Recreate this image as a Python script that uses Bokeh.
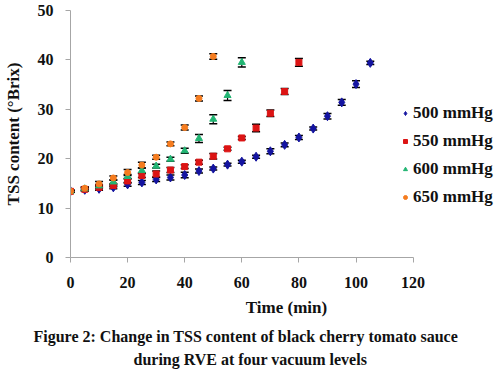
from bokeh.plotting import figure
from bokeh.models import (ColumnDataSource, Whisker, TeeHead, Legend, LegendItem,
                          Range1d, FixedTicker, Title)
from bokeh.embed import file_html
from bokeh.resources import INLINE

# ---- data ----
t_500 = [0, 5, 10, 15, 20, 25, 30, 35, 40, 45, 50, 55, 60, 65, 70, 75, 80, 85, 90, 95, 100, 105]
tss_500 = [13.4, 13.7, 13.9, 14.2, 14.8, 15.2, 15.8, 16.2, 16.7, 17.5, 18.0, 18.8, 19.4, 20.4,
           21.5, 22.8, 24.3, 26.1, 28.6, 31.4, 35.1, 39.4]
err_500 = [0.2, 0.3, 0.3, 0.3, 0.4, 0.4, 0.4, 0.5, 0.55, 0.4, 0.3, 0.3, 0.3, 0.3, 0.5, 0.4,
           0.4, 0.3, 0.55, 0.6, 0.7, 0.35]

t_550 = [0, 5, 10, 15, 20, 25, 30, 35, 40, 45, 50, 55, 60, 65, 70, 75, 80]
tss_550 = [13.4, 13.8, 14.2, 14.6, 15.5, 16.6, 16.9, 17.7, 18.4, 19.3, 20.5, 22.0, 24.2, 26.2,
           29.2, 33.6, 39.5]
err_550 = [0.2, 0.3, 0.3, 0.3, 0.4, 0.4, 0.6, 0.5, 0.4, 0.4, 0.55, 0.3, 0.3, 0.75, 0.65, 0.6, 0.8]

t_600 = [0, 5, 10, 15, 20, 25, 30, 35, 40, 45, 50, 55, 60]
tss_600 = [13.4, 13.9, 14.5, 15.3, 16.4, 17.6, 18.5, 19.9, 21.6, 24.1, 28.0, 32.8, 39.5]
err_600 = [0.2, 0.3, 0.3, 0.4, 0.4, 0.5, 0.4, 0.4, 0.5, 0.8, 0.9, 1.0, 0.95]

t_650 = [0, 5, 10, 15, 20, 25, 30, 35, 40, 45, 50]
tss_650 = [13.4, 14.0, 14.9, 16.1, 17.2, 18.7, 20.3, 23.0, 26.3, 32.2, 40.7]
err_650 = [0.2, 0.3, 0.5, 0.4, 0.6, 0.6, 0.4, 0.4, 0.5, 0.5, 0.55]

labels = ["500 mmHg", "550 mmHg", "600 mmHg", "650 mmHg"]
x_ticks = [0, 20, 40, 60, 80, 100, 120]
y_ticks = [0, 10, 20, 30, 40, 50]

FONT = "Liberation Serif"
W, H = 502, 369
LEFT, TOP, BOTTOM = 67, 10, 112
AXIS_W = 345.0            # pixel length of the 0..120 x axis
frame_w = W - LEFT
x_end = 120 * frame_w / AXIS_W   # frame extends right to make room for the legend

p = figure(width=W, height=H, output_backend="svg", toolbar_location=None,
           x_range=Range1d(0, x_end), y_range=Range1d(0, 50),
           min_border_left=LEFT, min_border_right=0, min_border_top=TOP,
           min_border_bottom=BOTTOM)
p.outline_line_color = None
p.xgrid.visible = False
p.ygrid.visible = False

for ax in (p.xaxis[0], p.yaxis[0]):
    ax.axis_line_color = "#a6a6a6"
    ax.major_tick_line_color = "#a6a6a6"
    ax.minor_tick_line_color = None
    ax.major_tick_out = 5
    ax.major_tick_in = 0
    ax.major_label_text_font = FONT
    ax.major_label_text_font_style = "bold"
    ax.major_label_text_font_size = "16px"
    ax.major_label_text_color = "#111111"
    ax.axis_label_text_font = FONT
    ax.axis_label_text_font_style = "bold"
    ax.axis_label_text_font_size = "17px"
    ax.axis_label_text_color = "#111111"

p.xaxis.bounds = (0, 120)
p.xaxis.ticker = FixedTicker(ticks=x_ticks)
p.yaxis.ticker = FixedTicker(ticks=y_ticks)
p.xaxis.axis_label = "Time (min)"
p.yaxis.axis_label = "TSS content (°Brix)"
p.xaxis.major_label_standoff = 14
p.xaxis.axis_label_standoff = 7
p.yaxis.major_label_standoff = 12
p.yaxis.axis_label_standoff = 12

series = [
    (t_500, tss_500, err_500, "diamond", "#1414a0", 9),
    (t_550, tss_550, err_550, "square", "#dc1414", 6),
    (t_600, tss_600, err_600, "triangle", "#22b573", 7),
    (t_650, tss_650, err_650, "circle", "#f57c1f", 6),
]

items = []
for (t, v, e, marker, color, size), lab in zip(series, labels):
    src = ColumnDataSource(dict(t=t, v=v,
                                lo=[a - b for a, b in zip(v, e)],
                                hi=[a + b for a, b in zip(v, e)]))
    w = Whisker(base="t", lower="lo", upper="hi", source=src, level="underlay",
                line_color="black", line_width=1.2,
                upper_head=TeeHead(size=8, line_color="black", line_width=1.5),
                lower_head=TeeHead(size=8, line_color="black", line_width=1.5))
    p.add_layout(w)
    r = p.scatter("t", "v", source=src, marker=marker, size=size,
                  fill_color=color, line_color=color)
    items.append(LegendItem(label=lab, renderers=[r]))

legend = Legend(items=items, location=(330, 50), orientation="vertical",
                label_text_font=FONT, label_text_font_style="bold",
                label_text_font_size="17px", label_text_color="#111111",
                glyph_width=10, glyph_height=16, label_height=16,
                label_standoff=3, spacing=8, padding=0, margin=0,
                border_line_color=None, background_fill_alpha=0)
p.add_layout(legend)

cap1 = Title(text="Figure 2: Change in TSS content of black cherry tomato sauce",
             align="left", offset=-37, text_font=FONT, text_font_style="bold",
             text_font_size="16px", text_color="#111111", standoff=13)
cap2 = Title(text="during RVE at four vacuum levels",
             align="left", offset=63, text_font=FONT, text_font_style="bold",
             text_font_size="16px", text_color="#111111", standoff=-6)
p.add_layout(cap1, "below")
p.add_layout(cap2, "below")

open("out.html", "w").write(file_html(p, INLINE))
